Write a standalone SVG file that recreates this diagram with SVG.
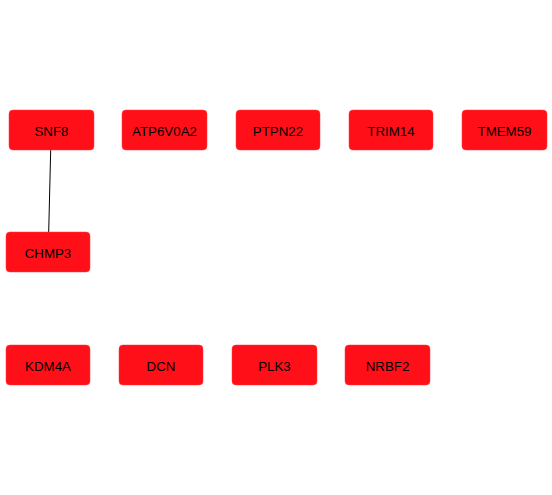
<svg xmlns="http://www.w3.org/2000/svg" width="552" height="495" viewBox="0 0 552 495">
<style>
.n rect{fill:#ff0f17;stroke:#ff3a40;stroke-width:0.5}
.n text{font-family:"Liberation Sans",Arial,sans-serif;font-size:13.3px;fill:#000;text-anchor:middle;dominant-baseline:central}
.e line{stroke:#000;stroke-width:1}
</style>
<rect width="552" height="495" fill="#fff"/>
<g id="edges" class="e">
<line x1="50.7" y1="150" x2="48.7" y2="232"/>
</g>
<g id="SNF8" class="n"><rect x="9" y="110" width="85" height="40" rx="4"/><text x="51.5" y="131">SNF8</text></g>
<g id="ATP6V0A2" class="n"><rect x="122" y="110" width="85" height="40" rx="4"/><text x="164.5" y="131">ATP6V0A2</text></g>
<g id="PTPN22" class="n"><rect x="236" y="110" width="84" height="40" rx="4"/><text x="278" y="131">PTPN22</text></g>
<g id="TRIM14" class="n"><rect x="349" y="110" width="84" height="40" rx="4"/><text x="391" y="131">TRIM14</text></g>
<g id="TMEM59" class="n"><rect x="462" y="110" width="85" height="40" rx="4"/><text x="504.5" y="131">TMEM59</text></g>
<g id="CHMP3" class="n"><rect x="6" y="232" width="84" height="40" rx="4"/><text x="48" y="253">CHMP3</text></g>
<g id="KDM4A" class="n"><rect x="6" y="345" width="84" height="40" rx="4"/><text x="48" y="366">KDM4A</text></g>
<g id="DCN" class="n"><rect x="119" y="345" width="84" height="40" rx="4"/><text x="161" y="366">DCN</text></g>
<g id="PLK3" class="n"><rect x="232" y="345" width="85" height="40" rx="4"/><text x="274.5" y="366">PLK3</text></g>
<g id="NRBF2" class="n"><rect x="345" y="345" width="85" height="40" rx="4"/><text x="387.5" y="366">NRBF2</text></g>
</svg>
